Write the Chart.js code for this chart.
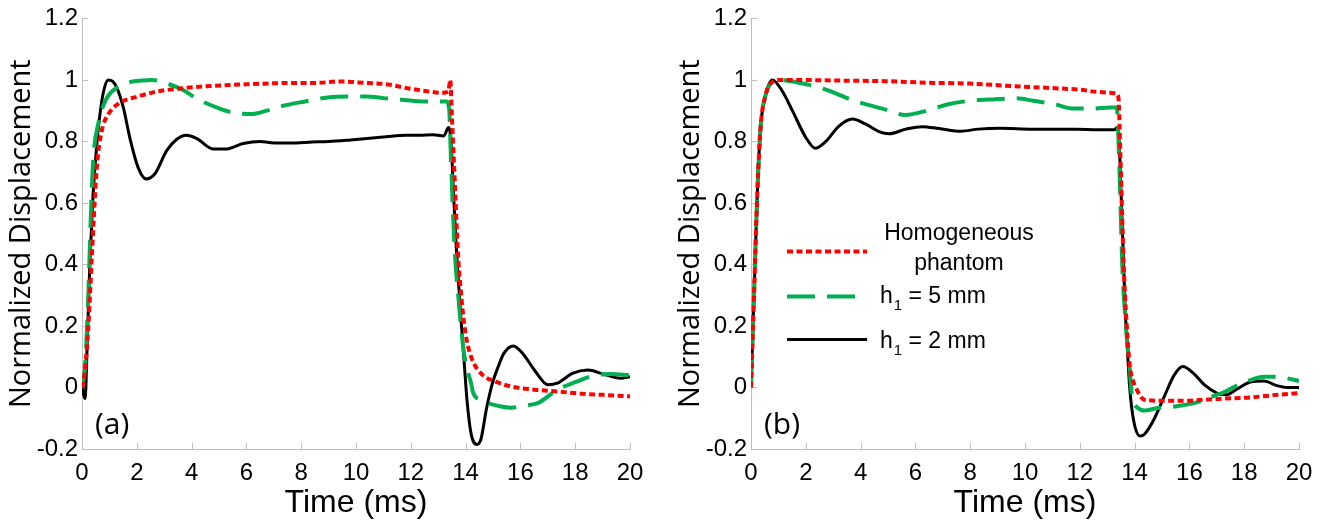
<!DOCTYPE html>
<html>
<head>
<meta charset="utf-8">
<script src="https://cdn.jsdelivr.net/npm/chart.js@4.4.1/dist/chart.umd.min.js"></script>
<style>
  html, body { margin: 0; padding: 0; background: #fff; }
  #wrap { display: flex; width: 1338px; height: 527px; }
  canvas { display: block; }
</style>
</head>
<body>
<div id="wrap">
  <canvas id="chartA" width="669" height="527"></canvas>
  <canvas id="chartB" width="669" height="527"></canvas>
</div>
<script>
// axis ticks
var xTickValues = [0, 2, 4, 6, 8, 10, 12, 14, 16, 18, 20];
var xTickLabels = ['0', '2', '4', '6', '8', '10', '12', '14', '16', '18', '20'];
var yTickValues = [-0.2, 0, 0.2, 0.4, 0.6, 0.8, 1, 1.2];
var yTickLabels = ['-0.2', '0', '0.2', '0.4', '0.6', '0.8', '1', '1.2'];

var seriesNames = ['Homogeneous phantom', 'h1 = 5 mm', 'h1 = 2 mm'];

// (a) homogeneous phantom
var timeA_hom = [0, 0.05, 0.23, 0.35, 0.54, 0.72, 0.96, 1.39, 2.0, 2.73, 3.58, 4.67, 6.13, 7.58, 8.5, 9.39, 10.37, 11.2, 11.76, 12.46, 13.16, 13.37, 13.44, 13.5, 13.58, 13.72, 13.86, 14.0, 14.2, 14.56, 15.1, 15.67, 16.5, 17.35, 18.19, 19.02, 20];
var dispA_hom = [0, 0.012, 0.196, 0.41, 0.715, 0.834, 0.888, 0.926, 0.945, 0.962, 0.972, 0.98, 0.986, 0.99, 0.99, 0.995, 0.99, 0.985, 0.975, 0.965, 0.958, 0.962, 1.0, 0.88, 0.72, 0.44, 0.28, 0.174, 0.1, 0.046, 0.019, 0.003, -0.007, -0.013, -0.02, -0.024, -0.029];
// (a) h1 = 5 mm
var timeA_h5 = [0, 0.11, 0.23, 0.32, 0.41, 0.6, 0.9, 1.27, 1.75, 2.2, 2.55, 3.04, 3.67, 4.23, 4.93, 5.49, 6.18, 6.74, 7.44, 8.14, 8.97, 9.81, 10.37, 11.07, 11.76, 12.46, 13.3, 13.4, 13.47, 13.6, 13.75, 13.9, 14.0, 14.2, 14.28, 14.56, 15.25, 15.67, 16.16, 16.65, 17.35, 18.05, 18.6, 19.3, 20];
var dispA_h5 = [0, 0.066, 0.3, 0.55, 0.74, 0.86, 0.94, 0.975, 0.993, 0.998, 1.0, 0.99, 0.968, 0.937, 0.91, 0.894, 0.889, 0.9, 0.918, 0.93, 0.943, 0.946, 0.946, 0.94, 0.935, 0.93, 0.93, 0.905, 0.73, 0.45, 0.28, 0.14, 0.08, 0.014, -0.018, -0.04, -0.061, -0.066, -0.059, -0.05, -0.007, 0.019, 0.037, 0.044, 0.04];
// (a) h1 = 2 mm
var timeA_h2 = [0, 0.11, 0.2, 0.29, 0.4, 0.54, 0.63, 0.78, 0.96, 1.12, 1.27, 1.51, 1.75, 2.05, 2.34, 2.66, 3.09, 3.46, 3.8, 4.18, 4.8, 5.25, 5.88, 6.5, 6.9, 7.6, 8.4, 9.0, 9.8, 10.5, 11.1, 11.8, 12.3, 12.8, 13.2, 13.38, 13.47, 13.55, 13.65, 13.75, 13.85, 13.95, 14.05, 14.2, 14.42, 14.56, 14.76, 14.98, 15.2, 15.39, 15.74, 16.09, 16.51, 17.0, 17.35, 17.9, 18.46, 19.02, 19.65, 20];
var dispA_h2 = [0, -0.036, 0.17, 0.41, 0.62, 0.79, 0.87, 0.96, 1.0, 0.995, 0.975, 0.91, 0.81, 0.715, 0.678, 0.695, 0.77, 0.807, 0.82, 0.81, 0.775, 0.775, 0.793, 0.8, 0.796, 0.795, 0.798, 0.8, 0.805, 0.81, 0.815, 0.82, 0.82, 0.822, 0.818, 0.845, 0.8, 0.65, 0.47, 0.33, 0.2, 0.08, -0.04, -0.15, -0.185, -0.168, -0.07, 0.014, 0.07, 0.11, 0.135, 0.11, 0.057, 0.009, 0.014, 0.046, 0.057, 0.044, 0.03, 0.035];

// (b) homogeneous phantom
var timeB_hom = [0, 0.11, 0.23, 0.35, 0.54, 0.8, 1.0, 1.74, 3.0, 4.86, 6.42, 7.98, 9.53, 11.09, 12.02, 12.65, 13.27, 13.4, 13.5, 13.6, 13.7, 13.82, 13.95, 14.05, 14.36, 14.98, 15.76, 16.54, 17.32, 18.26, 19.19, 20];
var dispB_hom = [0, 0.3, 0.63, 0.845, 0.953, 0.995, 1.0, 1.0, 0.998, 0.996, 0.991, 0.988, 0.98, 0.973, 0.968, 0.961, 0.957, 0.948, 0.7, 0.4, 0.22, 0.073, 0.02, -0.002, -0.04, -0.043, -0.043, -0.04, -0.036, -0.032, -0.024, -0.018];
// (b) h1 = 5 mm
var timeB_h5 = [0, 0.11, 0.23, 0.35, 0.54, 0.8, 1.0, 1.74, 2.68, 3.77, 4.86, 5.64, 6.42, 7.2, 7.98, 8.91, 9.69, 10.31, 11.09, 11.71, 12.49, 13.12, 13.35, 13.45, 13.55, 13.7, 13.82, 13.9, 14.13, 14.36, 14.83, 15.3, 15.76, 16.39, 16.85, 17.32, 17.79, 18.26, 18.72, 19.19, 19.66, 20];
var dispB_h5 = [0, 0.3, 0.63, 0.845, 0.953, 0.995, 1.0, 0.991, 0.97, 0.932, 0.905, 0.886, 0.9, 0.921, 0.932, 0.937, 0.94, 0.932, 0.921, 0.907, 0.907, 0.91, 0.91, 0.7, 0.4, 0.18, 0.062, -0.024, -0.067, -0.075, -0.067, -0.064, -0.058, -0.045, -0.029, -0.013, 0.009, 0.025, 0.035, 0.035, 0.028, 0.021];
// (b) h1 = 2 mm
var timeB_h2 = [0, 0.11, 0.23, 0.35, 0.54, 0.78, 1.14, 1.51, 2.0, 2.34, 2.73, 3.21, 3.7, 4.19, 4.67, 5.04, 5.65, 6.25, 6.86, 7.66, 8.29, 9.07, 10.3, 11.87, 12.65, 13.27, 13.36, 13.43, 13.5, 13.58, 13.66, 13.74, 13.82, 13.97, 14.2, 14.36, 14.67, 15.06, 15.45, 15.76, 16.15, 16.54, 17.0, 17.32, 17.79, 18.26, 18.72, 19.19, 19.58, 20];
var dispB_h2 = [0, 0.3, 0.63, 0.845, 0.953, 1.0, 0.964, 0.9, 0.813, 0.778, 0.8, 0.85, 0.873, 0.856, 0.832, 0.825, 0.84, 0.848, 0.842, 0.833, 0.84, 0.843, 0.84, 0.84, 0.838, 0.838, 0.846, 0.81, 0.65, 0.45, 0.25, 0.12, 0.0, -0.11, -0.158, -0.152, -0.11, -0.034, 0.041, 0.068, 0.046, 0.009, -0.018, -0.024, -0.002, 0.019, 0.021, 0.006, 0, 0];

var redStyle = { color: '#ff0000', width: 4, dash: [6, 3.5] };
var greenStyle = { color: '#00b050', width: 4, dash: [28, 12] };
var blackStyle = { color: '#000000', width: 3, dash: [] };

var axisGray = '#bfbfbf';
var tickFont = "'Liberation Sans', Arial, sans-serif";

function toPoints(t, v) {
  var pts = [];
  for (var i = 0; i < t.length; i++) {
    pts.push({ x: t[i], y: v[i] });
  }
  return pts;
}

function makeDataset(label, t, v, st) {
  return {
    label: label,
    data: toPoints(t, v),
    borderColor: st.color,
    backgroundColor: st.color,
    borderWidth: st.width,
    borderDash: st.dash,
    cubicInterpolationMode: 'monotone',
    pointRadius: 0,
    fill: false
  };
}

// small tick marks pointing into the plot
var innerTicks = {
  id: 'innerTicks',
  beforeDatasetsDraw: function (chart) {
    var ctx = chart.ctx, xs = chart.scales.x, ys = chart.scales.y;
    var area = chart.chartArea;
    ctx.save();
    ctx.strokeStyle = axisGray;
    ctx.lineWidth = 1;
    ctx.beginPath();
    xTickValues.forEach(function (v) {
      var px = Math.round(xs.getPixelForValue(v)) + 0.5;
      ctx.moveTo(px, area.bottom);
      ctx.lineTo(px, area.bottom - 6);
    });
    yTickValues.forEach(function (v) {
      var py = Math.round(ys.getPixelForValue(v)) + 0.5;
      ctx.moveTo(area.left, py);
      ctx.lineTo(area.left + 6, py);
    });
    ctx.stroke();
    ctx.restore();
  }
};

var panelLabel = {
  id: 'panelLabel',
  afterDraw: function (chart, args, opts) {
    var ctx = chart.ctx, area = chart.chartArea;
    ctx.save();
    ctx.fillStyle = '#000';
    ctx.font = "30px 'Open Sans', sans-serif";
    ctx.textBaseline = 'middle';
    ctx.textAlign = 'left';
    ctx.fillText(opts.text, area.left + 13, area.bottom - 24);
    ctx.restore();
  }
};

// legend block inside panel (b)
var sideLegend = {
  id: 'sideLegend',
  afterDraw: function (chart, args, opts) {
    if (!opts.show) return;
    var ctx = chart.ctx, area = chart.chartArea;
    var x0 = area.left + 36, x1 = area.left + 116;
    var rows = [
      { st: redStyle, y: area.top + 233 },
      { st: greenStyle, y: area.top + 278 },
      { st: blackStyle, y: area.top + 321 }
    ];
    ctx.save();
    rows.forEach(function (r) {
      ctx.strokeStyle = r.st.color;
      ctx.lineWidth = r.st.width;
      ctx.setLineDash(r.st.dash);
      ctx.beginPath();
      ctx.moveTo(x0, r.y);
      ctx.lineTo(x1, r.y);
      ctx.stroke();
    });
    ctx.setLineDash([]);
    ctx.fillStyle = '#000';
    ctx.font = "23px 'Liberation Sans', Arial, sans-serif";
    ctx.textBaseline = 'middle';
    ctx.textAlign = 'center';
    ctx.fillText('Homogeneous', area.left + 208, area.top + 215);
    ctx.fillText('phantom', area.left + 208, area.top + 245);

    function subLabel(num, y) {
      var x = area.left + 129;
      ctx.textAlign = 'left';
      ctx.font = "23px 'Liberation Sans', Arial, sans-serif";
      ctx.fillText('h', x, y);
      x += ctx.measureText('h').width + 1;
      ctx.font = "15px 'Liberation Sans', Arial, sans-serif";
      ctx.fillText('1', x, y + 9);
      x += ctx.measureText('1').width;
      ctx.font = "23px 'Liberation Sans', Arial, sans-serif";
      ctx.fillText(' = ' + num + ' mm', x, y);
    }
    subLabel('5', area.top + 278);
    subLabel('2', area.top + 323);
    ctx.restore();
  }
};

function buildChart(canvasId, panelText, hom, h5, h2, showLegend) {
  var ctx = document.getElementById(canvasId);
  var config = {
    type: 'line',
    data: {
      datasets: [
        makeDataset(seriesNames[0], hom[0], hom[1], redStyle),
        makeDataset(seriesNames[1], h5[0], h5[1], greenStyle),
        makeDataset(seriesNames[2], h2[0], h2[1], blackStyle)
      ]
    },
    options: {
      responsive: false,
      animation: false,
      devicePixelRatio: 1,
      layout: { padding: { top: 17, right: 39, bottom: 0, left: 0 } },
      plugins: {
        legend: { display: false },
        tooltip: { enabled: false },
        panelLabel: { text: panelText },
        sideLegend: { show: showLegend }
      },
      scales: {
        x: {
          type: 'linear',
          min: 0,
          max: 20,
          afterBuildTicks: function (s) {
            s.ticks = xTickValues.map(function (v) { return { value: v }; });
          },
          afterFit: function (s) { s.height = 78; },
          ticks: {
            color: '#000',
            padding: 10,
            font: { family: tickFont, size: 24 },
            maxRotation: 0,
            callback: function (value, index) { return xTickLabels[index]; }
          },
          grid: { drawOnChartArea: false, drawTicks: false },
          border: { color: axisGray, width: 1 },
          title: {
            display: true,
            text: 'Time (ms)',
            color: '#000',
            font: { family: tickFont, size: 32 },
            padding: { top: 0, bottom: 5 }
          }
        },
        y: {
          type: 'linear',
          min: -0.2,
          max: 1.2,
          afterBuildTicks: function (s) {
            s.ticks = yTickValues.map(function (v) { return { value: v }; });
          },
          afterFit: function (s) { s.width = 82; },
          ticks: {
            color: '#000',
            padding: 4,
            font: { family: tickFont, size: 24 },
            callback: function (value, index) { return yTickLabels[index]; }
          },
          grid: { drawOnChartArea: false, drawTicks: false },
          border: { color: axisGray, width: 1 },
          title: {
            display: true,
            text: 'Normalized Displacement',
            color: '#000',
            font: { family: "'Open Sans', sans-serif", size: 29 },
            padding: { top: 4, bottom: 0 }
          }
        }
      }
    },
    plugins: [innerTicks, panelLabel, sideLegend]
  };
  return new Chart(ctx, config);
}

buildChart('chartA', '(a)', [timeA_hom, dispA_hom], [timeA_h5, dispA_h5], [timeA_h2, dispA_h2], false);
buildChart('chartB', '(b)', [timeB_hom, dispB_hom], [timeB_h5, dispB_h5], [timeB_h2, dispB_h2], true);
</script>
</body>
</html>
